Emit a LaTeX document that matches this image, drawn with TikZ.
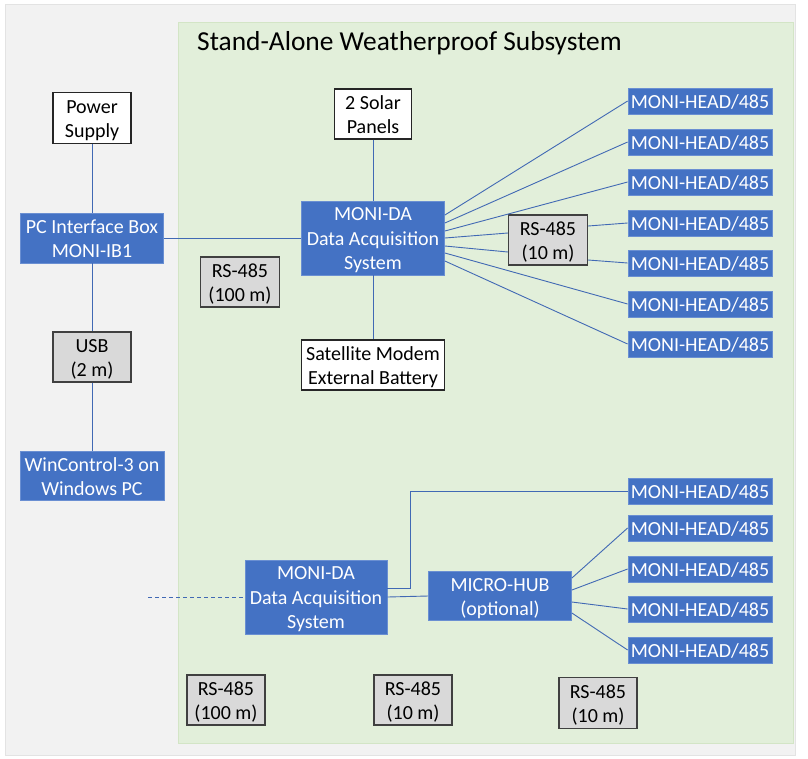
\documentclass[tikz,border=0pt]{standalone}
\usepackage{fontspec}
\setmainfont{Carlito}
\definecolor{bfill}{HTML}{4472C4}
\definecolor{bdraw}{HTML}{6A8FD2}
\definecolor{lnk}{HTML}{4169B4}
\definecolor{gfill}{HTML}{D9D9D9}
\definecolor{gdraw}{HTML}{404040}
\definecolor{green}{HTML}{E2EFDA}
\definecolor{greenb}{HTML}{D3E5C6}
\definecolor{outer}{HTML}{F2F2F2}
\definecolor{outerb}{HTML}{E3E3E3}
\newcommand\bxstrut{\rule[-5pt]{0pt}{24.8pt}}
\begin{document}
\begin{tikzpicture}[x=1pt,y=-1pt,
  basebox/.style={inner sep=0pt, align=center, font=\fontsize{20}{24.5}\selectfont,
    execute at end node=\bxstrut},
  bluebox/.style={basebox, fill=bfill, draw=bdraw, line width=0.8pt, text=white},
  graybox/.style={basebox, fill=gfill, draw=gdraw, line width=1.2pt, text=black},
  whitebox/.style={basebox, fill=white, draw=black!85, line width=1.2pt, text=black},
  headbox/.style={bluebox, minimum width=144pt, minimum height=26pt},
  link/.style={draw=lnk, line width=0.9pt}]
\useasboundingbox (0,0) rectangle (808,758);
\fill[white] (0,0) rectangle (808,758);
\draw[fill=outer, draw=outerb, line width=0.8pt] (5,4) rectangle (795,755);
\draw[fill=green, draw=greenb, line width=0.8pt] (178,22) rectangle (793,743);
\node[anchor=base west, inner sep=0pt, font=\fontsize{27.4}{30}\selectfont] (title) at (197,50) {Stand-Alone Weatherproof Subsystem};

% left column
\node[whitebox, minimum width=78pt, minimum height=51pt] (ps) at (92,118) {\bxstrut Power\\Supply};
\node[bluebox, minimum width=143pt, minimum height=50pt] (pc) at (92,238) {\bxstrut PC Interface Box\\MONI-IB1};
\node[graybox, minimum width=78pt, minimum height=50pt] (usb) at (92,357) {\bxstrut USB\\(2 m)};
\node[bluebox, minimum width=144pt, minimum height=49pt] (wc) at (92,476) {\bxstrut WinControl-3 on\\Windows PC};

% top subsystem
\node[graybox, minimum width=79pt, minimum height=50pt] (rs100) at (240,282) {\bxstrut RS-485\\(100 m)};
\node[whitebox, minimum width=77pt, minimum height=50pt] (sol) at (373,114) {\bxstrut 2 Solar\\Panels};
\node[bluebox, minimum width=143pt, minimum height=74pt] (da) at (373,238) {\bxstrut MONI-DA\\Data Acquisition\\System};
\node[whitebox, minimum width=143pt, minimum height=50pt] (sat) at (373,365) {\bxstrut Satellite Modem\\External Battery};
\node[graybox, minimum width=79pt, minimum height=50pt] (rs10) at (548,240) {\bxstrut RS-485\\(10 m)};

\node[headbox] (h1) at (700,101) {\bxstrut MONI-HEAD/485};
\node[headbox] (h2) at (700,142) {\bxstrut MONI-HEAD/485};
\node[headbox] (h3) at (700,182) {\bxstrut MONI-HEAD/485};
\node[headbox] (h4) at (700,223) {\bxstrut MONI-HEAD/485};
\node[headbox] (h5) at (700,263) {\bxstrut MONI-HEAD/485};
\node[headbox] (h6) at (700,304) {\bxstrut MONI-HEAD/485};
\node[headbox] (h7) at (700,344) {\bxstrut MONI-HEAD/485};

% bottom subsystem
\node[bluebox, minimum width=142pt, minimum height=73pt] (db) at (316,597) {\bxstrut MONI-DA\\Data Acquisition\\System};
\node[bluebox, minimum width=143pt, minimum height=49pt] (hub) at (500,596) {\bxstrut MICRO-HUB\\(optional)};
\node[headbox] (b1) at (700,491) {\bxstrut MONI-HEAD/485};
\node[headbox] (b2) at (700,528) {\bxstrut MONI-HEAD/485};
\node[headbox] (b3) at (700,569) {\bxstrut MONI-HEAD/485};
\node[headbox] (b4) at (700,609) {\bxstrut MONI-HEAD/485};
\node[headbox] (b5) at (700,650) {\bxstrut MONI-HEAD/485};

\node[graybox, minimum width=78pt, minimum height=50pt] (rsa) at (226,700) {\bxstrut RS-485\\(100 m)};
\node[graybox, minimum width=78pt, minimum height=50pt] (rsb) at (413,700) {\bxstrut RS-485\\(10 m)};
\node[graybox, minimum width=78pt, minimum height=51pt] (rsc) at (598,703) {\bxstrut RS-485\\(10 m)};

\coordinate (dstart) at (148,597);

% connectors
\draw[link] (ps.south) -- (pc.north);
\draw[link] (pc.south) -- (usb.north);
\draw[link] (usb.south) -- (wc.north);
\draw[link] (pc.east) -- (da.west);
\draw[link] (sol.south) -- (da.north);
\draw[link] (da.south) -- (sat.north);

\draw[link] ([yshift=23pt]da.east) -- (h1.west);
\draw[link] ([yshift=15pt]da.east) -- (h2.west);
\draw[link] ([yshift=7pt]da.east) -- (h3.west);
\draw[link] (da.east) -- ([yshift=7pt]rs10.west);
\draw[link] ([yshift=-8pt]da.east) -- ([yshift=-12pt]rs10.west);
\draw[link] ([yshift=14pt]rs10.east) -- (h4.west);
\draw[link] ([yshift=-20pt]rs10.east) -- (h5.west);
\draw[link] ([yshift=-15pt]da.east) -- (h6.west);
\draw[link] ([yshift=-23pt]da.east) -- (h7.west);

\draw[link, dash pattern=on 4pt off 3pt] (dstart) -- (db.west);
\draw[link] ([yshift=9pt]db.east) -- ++(23,0) |- (b1.west);
\draw[link] (db.east) -- (hub.west);
\draw[link] ([yshift=18pt]hub.east) -- (b2.west);
\draw[link] ([yshift=6pt]hub.east) -- (b3.west);
\draw[link] ([yshift=-6pt]hub.east) -- (b4.west);
\draw[link] ([yshift=-17pt]hub.east) -- (b5.west);
\end{tikzpicture}
\end{document}
